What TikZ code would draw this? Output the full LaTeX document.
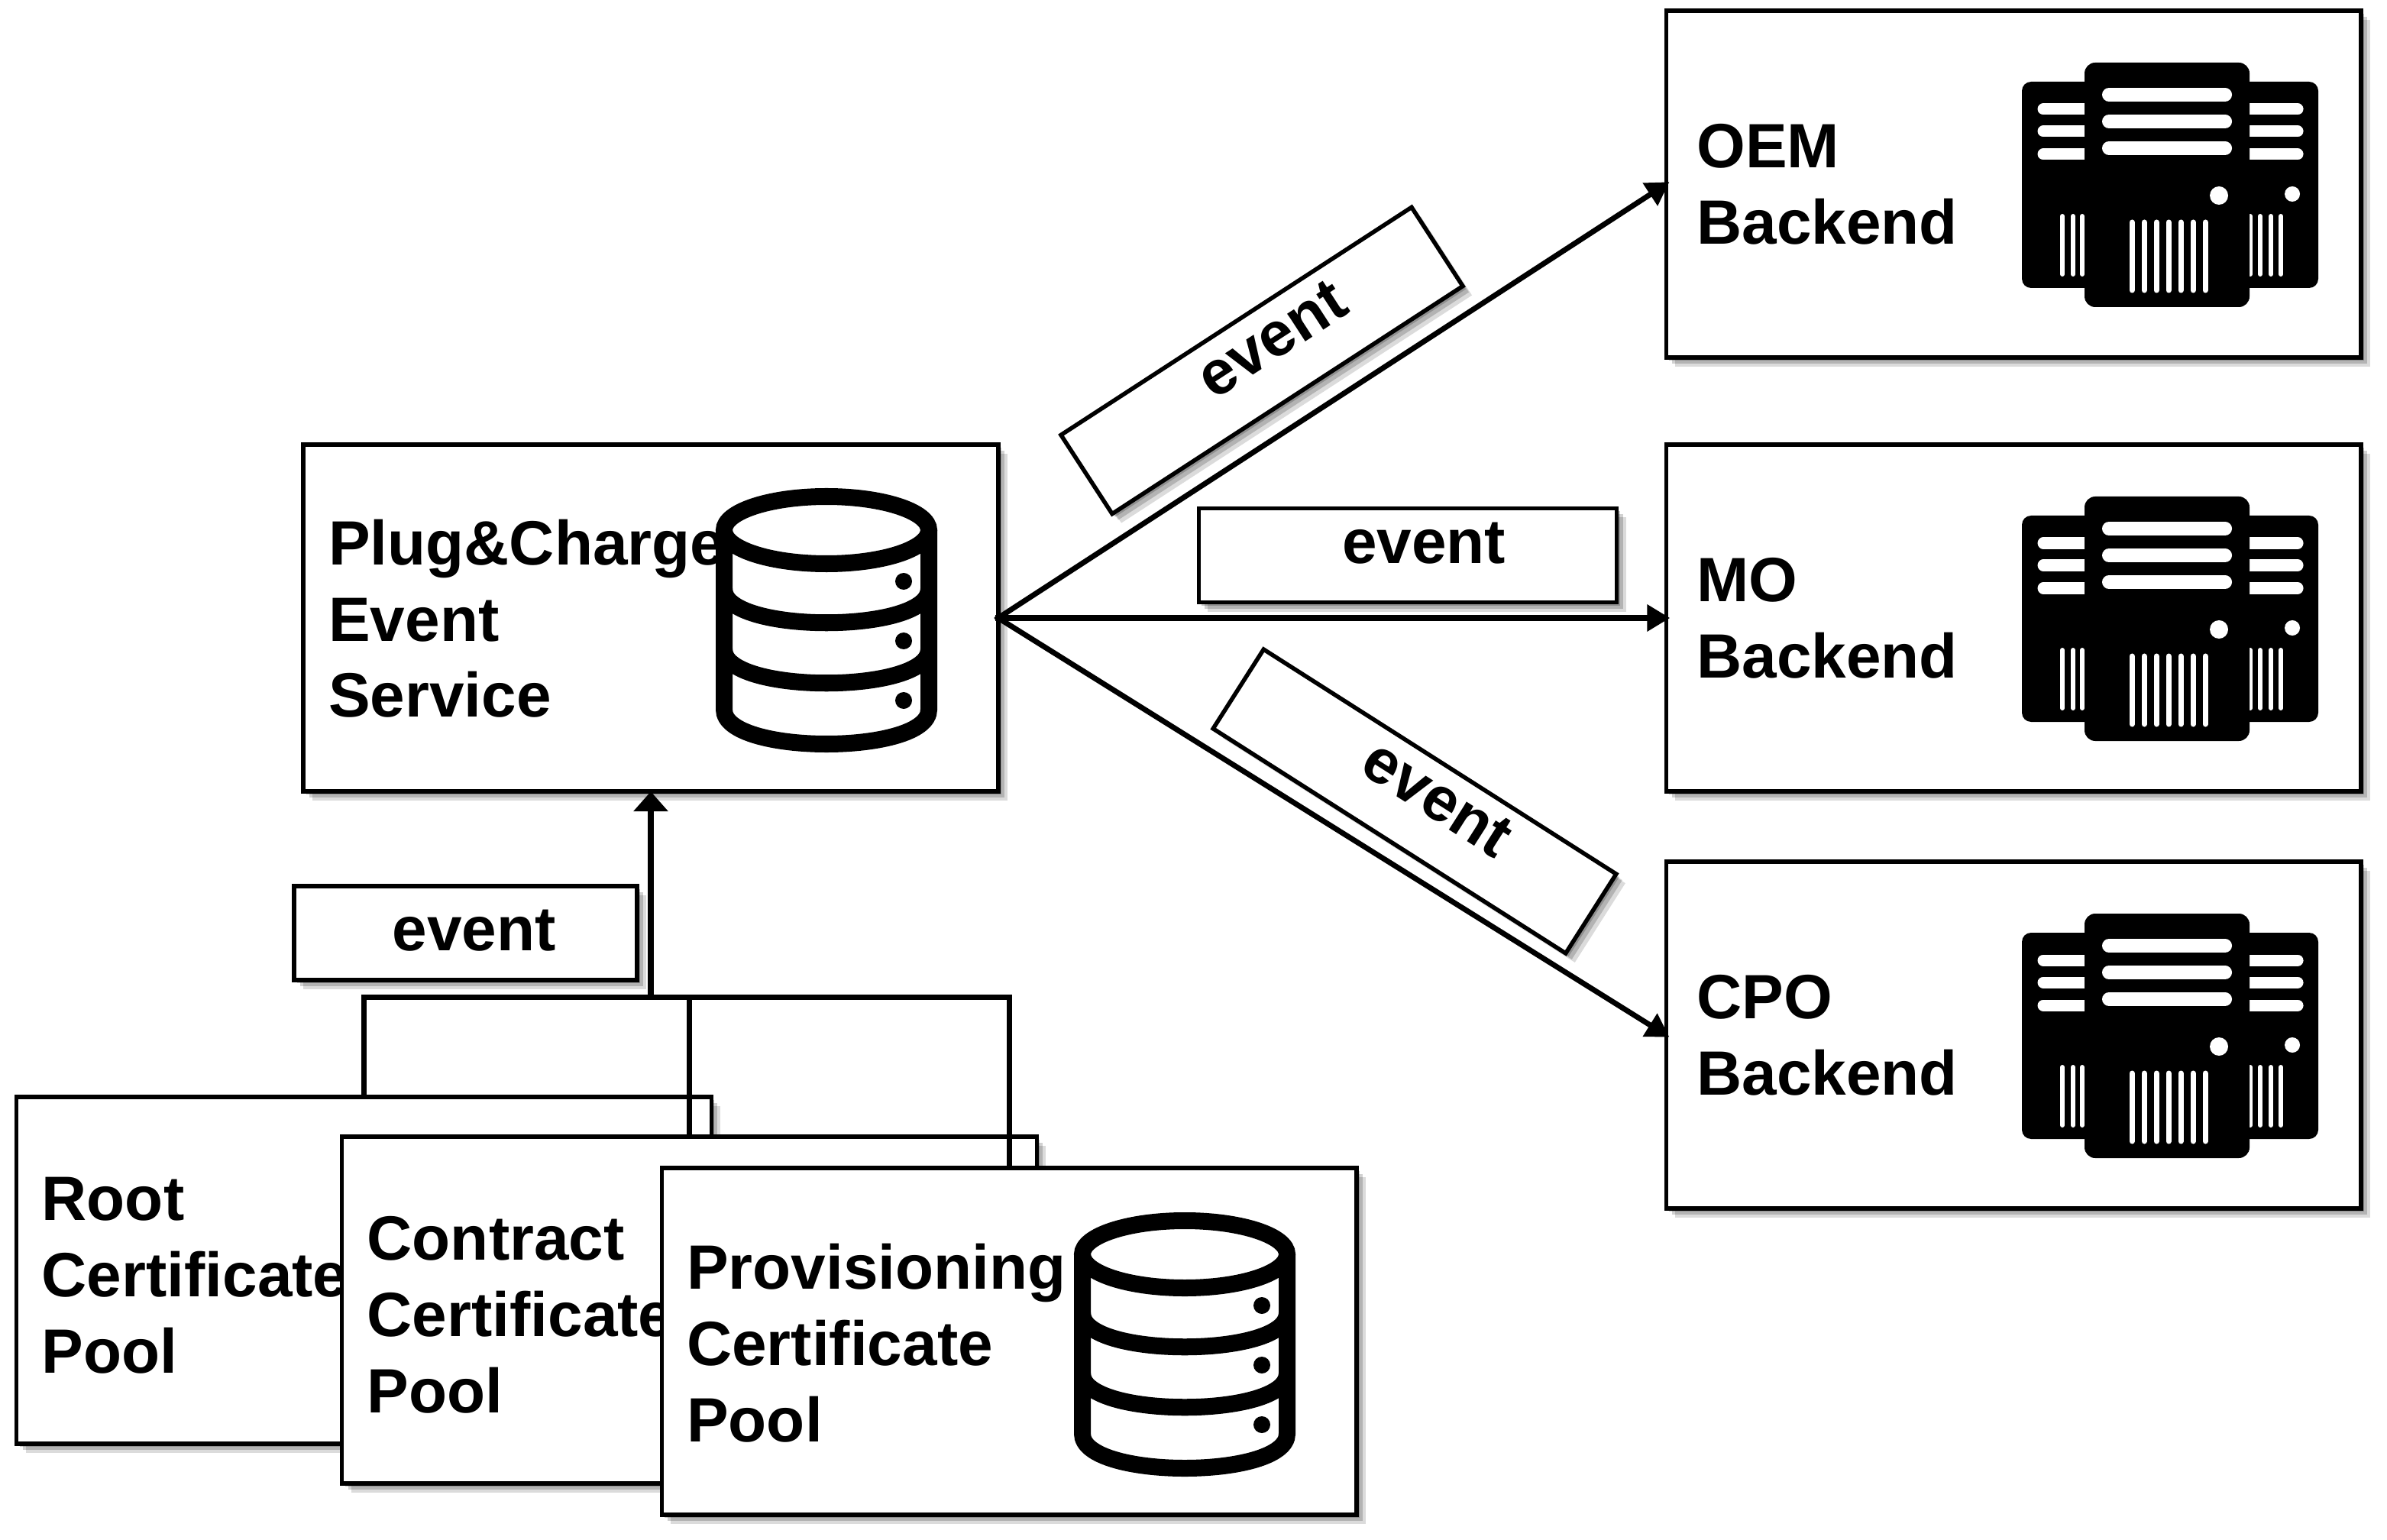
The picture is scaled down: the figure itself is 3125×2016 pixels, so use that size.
\documentclass[tikz,border=0pt]{standalone}
\usepackage{fontspec}
\setmainfont{Liberation Sans}
\usetikzlibrary{arrows.meta, shadows}
\def \EV #1#2{\hspace{#1}\raisebox{#2}{event}}
\def \TOP #1{\rule{0pt}{#1}}

\tikzset{
    softshadow/.style={
        general shadow={shadow xshift=.04cm, shadow yshift=-.04cm, fill=black, opacity=.2},
        general shadow={shadow xshift=.08cm, shadow yshift=-.08cm, fill=black, opacity=.18},
        general shadow={shadow xshift=.12cm, shadow yshift=-.12cm, fill=black, opacity=.14}
    },
    dbicon/.pic={
        % cylinder
        \fill[white] (-134,-117) rectangle (134,118);
        \fill[white] (0,118) ellipse [x radius=134, y radius=44];
        \draw[line width=.22cm] (-134,-117) -- (-134,118) .. controls (-134,178) and (134,178) .. (134,118) -- (134,-117);
        \draw[line width=.22cm] (0,-117) ellipse [x radius=134, y radius=44];
        \draw[line width=.22cm] (-134,-40) .. controls (-134,19) and (134,19) .. (134,-40);
        \draw[line width=.22cm] (-134,39) .. controls (-134,98) and (134,98) .. (134,39);
        % dots
        \fill (101,-50) circle [radius=11];
        \fill (101,28) circle [radius=11];
        \fill (101,106) circle [radius=11];
    },
    servericon/.pic={
        % back block
        \fill[rounded corners=.12cm] (-190,-135) rectangle (198,135);
        \draw[white, line width=.15cm, line cap=round] (-162,-99) -- (-100,-99) (-162,-70) -- (-100,-70) (-162,-40) -- (-100,-40);
        \draw[white, line width=.15cm, line cap=round] (100,-99) -- (171,-99) (100,-70) -- (171,-70) (100,-40) -- (171,-40);
        \draw[white, line width=.06cm, line cap=round] (-137,41) -- (-137,117) (-123,41) -- (-123,117) (-111,41) -- (-111,117);
        \draw[white, line width=.06cm, line cap=round] (109,41) -- (109,117) (122,41) -- (122,117) (136,41) -- (136,117) (149,41) -- (149,117);
        \fill[white] (164,12) circle [radius=10];
        % front block
        \fill[rounded corners=.14cm] (-108,-160) rectangle (108,160);
        \draw[white, line width=.18cm, line cap=round] (-76,-118) -- (76,-118) (-76,-83) -- (76,-83) (-76,-48) -- (76,-48);
        \draw[white, line width=.07cm, line cap=round] (-46,49) -- (-46,138) (-30,49) -- (-30,138) (-14,49) -- (-14,138) (2,49) -- (2,138) (18,49) -- (18,138) (34,49) -- (34,138) (50,49) -- (50,138);
        \fill[white] (68,14) circle [radius=12];
    }
}

\begin{document}
\begin{tikzpicture}[
    x=.01cm, y=-.01cm,
    box/.style={
        rectangle,
        draw=black,
        fill=white,
        line width=.055cm,
        outer sep=0pt,
        inner xsep=.33cm,
        inner ysep=0pt,
        minimum width=9.09cm,
        minimum height=4.54cm,
        text width=8.43cm,
        align=left,
        softshadow,
        font=\fontsize{23.3pt}{28.4pt}\selectfont\bfseries
    },
    backend/.style={
        box,
        inner xsep=.4cm,
        text width=8.29cm
    },
    eventbox/.style={
        rectangle,
        draw=black,
        fill=white,
        line width=.055cm,
        outer sep=0pt,
        inner sep=0pt,
        minimum width=#1,
        minimum height=1.23cm,
        text height=.3cm,
        text depth=.3cm,
        softshadow,
        font=\fontsize{23.3pt}{28.4pt}\selectfont\bfseries
    },
    arrow/.style={
        -{Triangle[length=.3cm,width=.34cm]},
        line width=.07cm,
        shorten <=-.04cm,
        shorten >=-.05cm
    },
    bus/.style={
        line width=.07cm
    }
]
\useasboundingbox (0,0) rectangle (3125,2016);

% Backends
\node[backend] (oem) at (2636,241) {OEM\\Backend};
\node[backend] (mo) at (2636,809) {MO\\Backend};
\node[backend] (cpo) at (2636,1355) {CPO\\Backend};
\pic at (2837,242) {servericon};
\pic at (2837,810) {servericon};
\pic at (2837,1356) {servericon};

% Event service
\node[box] (service) at (852,809) {\TOP{.61cm}Plug\&Charge\\Event\\Service};
\pic at (1082,811) {dbicon};

% Certificate pools
\node[box] (root) at (476.5,1663) {\TOP{.69cm}Root\\Certificate\\Pool};
\node[box] (contract) at (902.5,1715) {\TOP{.69cm}Contract\\Certificate\\Pool};
\node[box] (provisioning) at (1321,1756) {\TOP{.63cm}Provisioning\\Certificate\\Pool};
\pic at (1551,1759) {dbicon};

% Event labels
\node[eventbox=5.47cm, rotate=33] (evoem) at (1652,472) {\EV{.52cm}{-.1cm}};
\node[eventbox=5.47cm] (evmo) at (1843,727) {\EV{.42cm}{-.1cm}};
\node[eventbox=5.47cm, rotate=-32.5] (evcpo) at (1852,1049) {\EV{.46cm}{-.07cm}};
\node[eventbox=4.49cm] (evpool) at (609.5,1221.5) {\EV{.22cm}{-.225cm}};

% Collecting line
\coordinate (busmid) at (852,1305);
\draw[bus] (root.north) |- (busmid);
\draw[bus] (contract.north) |- (busmid);
\draw[bus] (provisioning.north) |- (busmid);
\draw[-{Triangle[length=.26cm,width=.44cm]}, line width=.08cm] (busmid) -- (service.south);

% Events to backends
\draw[arrow] (service.east) -- (oem.west);
\draw[arrow] (service.east) -- (mo.west);
\draw[arrow] (service.east) -- (cpo.west);

\end{tikzpicture}
\end{document}
